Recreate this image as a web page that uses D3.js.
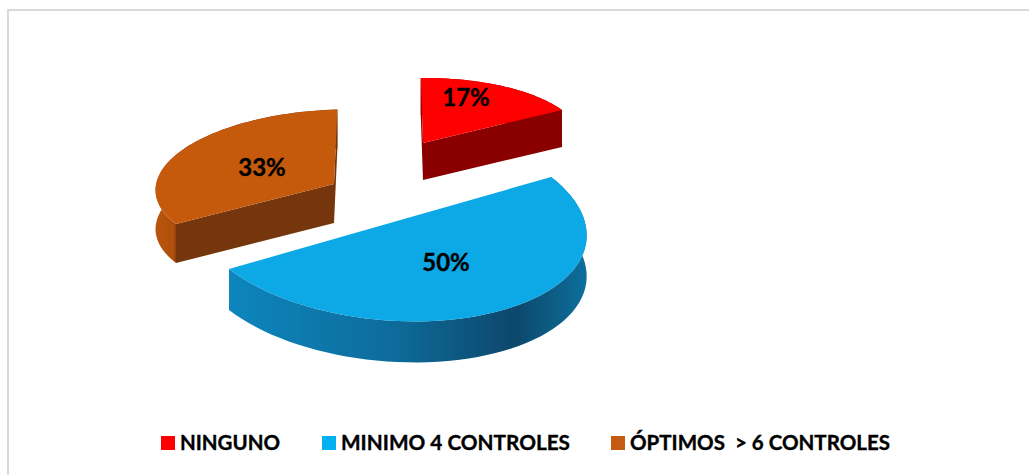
<!DOCTYPE html>
<html>
<head>
<meta charset="utf-8">
<script src="https://cdn.jsdelivr.net/npm/d3@7"></script>
<style>
  html, body { margin: 0; padding: 0; background: #fff; }
  svg { display: block; }
  text { font-family: Lato, "Open Sans", sans-serif; font-weight: 700; fill: #000; stroke: #000; stroke-width: 0.35px; }
</style>
</head>
<body>
<div id="chart"></div>
<script>
const categories = ["NINGUNO", "MINIMO 4 CONTROLES", "ÓPTIMOS  > 6 CONTROLES"];
const values = [17, 50, 33];

const width = 1029, height = 475;

// each exploded slice has its own projected centre and axes (the 3d view shrinks the far ones)
const views = [
  { tip: [423, 143], u: [139, -33], v: [79, 56], depth: 37, top: "#ff0000", cut: "#8a0000", wall: "wallRed", labelAt: [466, 97], swatch: "#ff0000" },
  { tip: [390, 223], u: [161, -46], v: [113, 87], depth: 41, top: "#08a8e6", cut: null, wall: "wallBlue", labelAt: [446, 262], swatch: "#00b0f0" },
  { tip: [334, 184], u: [158, -40], v: [83, 63], depth: 39, top: "#c55a11", cut: "#743507", wall: "wallOrange", labelAt: [262, 167], swatch: "#c55a11" }
];

const svg = d3.select("#chart")
  .append("svg")
  .attr("width", width)
  .attr("height", height);

const defs = svg.append("defs");

function gradient(id, stops) {
  defs.append("linearGradient")
    .attr("id", id)
    .selectAll("stop")
    .data(stops)
    .join("stop")
    .attr("offset", d => d[0])
    .attr("stop-color", d => d[1]);
}
gradient("wallRed", [[0, "#7a0000"], [0.6, "#8a0000"], [1, "#a00000"]]);
gradient("wallBlue", [[0, "#0f86bd"], [0.45, "#0a6c9c"], [0.8, "#07486b"], [1, "#0d6f9c"]]);
gradient("wallOrange", [[0, "#b8540f"], [0.1, "#b04f0e"], [0.12, "#743507"], [1, "#743507"]]);

defs.append("filter")
  .attr("id", "soft")
  .append("feGaussianBlur")
  .attr("stdDeviation", 0.5);

// frame, only left and top survive in the picture
svg.append("path")
  .attr("d", `M8,${height}V10H${width}`)
  .attr("fill", "none")
  .attr("stroke", "#d9d9d9")
  .attr("stroke-width", 2);

const slices = d3.pie().sort(null)(values);
const angleShift = slices[1].startAngle; // blue cut edge is the projection's zero angle

const line = d3.line();

function project(view, angle, drop) {
  const t = angle - angleShift;
  return [
    view.tip[0] + view.u[0] * Math.cos(t) + view.v[0] * Math.sin(t),
    view.tip[1] + view.u[1] * Math.cos(t) + view.v[1] * Math.sin(t) + drop
  ];
}

function arcPoints(view, s, drop) {
  const n = 60;
  return d3.range(n + 1).map(i =>
    project(view, s.startAngle + (s.endAngle - s.startAngle) * i / n, drop));
}

const marks = svg.append("g").attr("filter", "url(#soft)");

// far slices first so the blue one sits on top
[2, 0, 1].forEach(i => {
  const s = slices[i], view = views[i];
  const g = marks.append("g").attr("class", "slice");
  const topArc = arcPoints(view, s, 0);
  const lowArc = arcPoints(view, s, view.depth);

  // outer wall
  g.append("path")
    .attr("d", line(topArc.concat(lowArc.slice().reverse())) + "Z")
    .attr("fill", `url(#${view.wall})`);

  // the two cut faces
  if (view.cut) {
    [[topArc[0], lowArc[0]], [topArc[topArc.length - 1], lowArc[lowArc.length - 1]]].forEach(e => {
      g.append("path")
        .attr("d", line([view.tip, e[0], e[1], [view.tip[0], view.tip[1] + view.depth]]) + "Z")
        .attr("fill", view.cut);
    });
  }

  // top face
  g.append("path")
    .attr("d", line([view.tip].concat(topArc)) + "Z")
    .attr("fill", view.top);
});

svg.selectAll(".pct")
  .data(values)
  .join("text")
  .attr("class", "pct")
  .attr("x", (d, i) => views[i].labelAt[0])
  .attr("y", (d, i) => views[i].labelAt[1] + 9)
  .attr("text-anchor", "middle")
  .attr("font-size", 24)
  .text(d => d + "%");

// legend
const legendX = [161, 322, 611];
const legendWidth = [100, 229, 260];

const item = svg.selectAll(".legend")
  .data(categories)
  .join("g")
  .attr("class", "legend")
  .attr("transform", (d, i) => `translate(${legendX[i]},436)`);

item.append("rect")
  .attr("width", 14)
  .attr("height", 14)
  .attr("fill", (d, i) => views[i].swatch);

item.append("text")
  .attr("x", 19)
  .attr("y", 14)
  .attr("font-size", 20)
  .attr("textLength", (d, i) => legendWidth[i])
  .attr("lengthAdjust", "spacingAndGlyphs")
  .attr("xml:space", "preserve")
  .text(d => d);
</script>
</body>
</html>
